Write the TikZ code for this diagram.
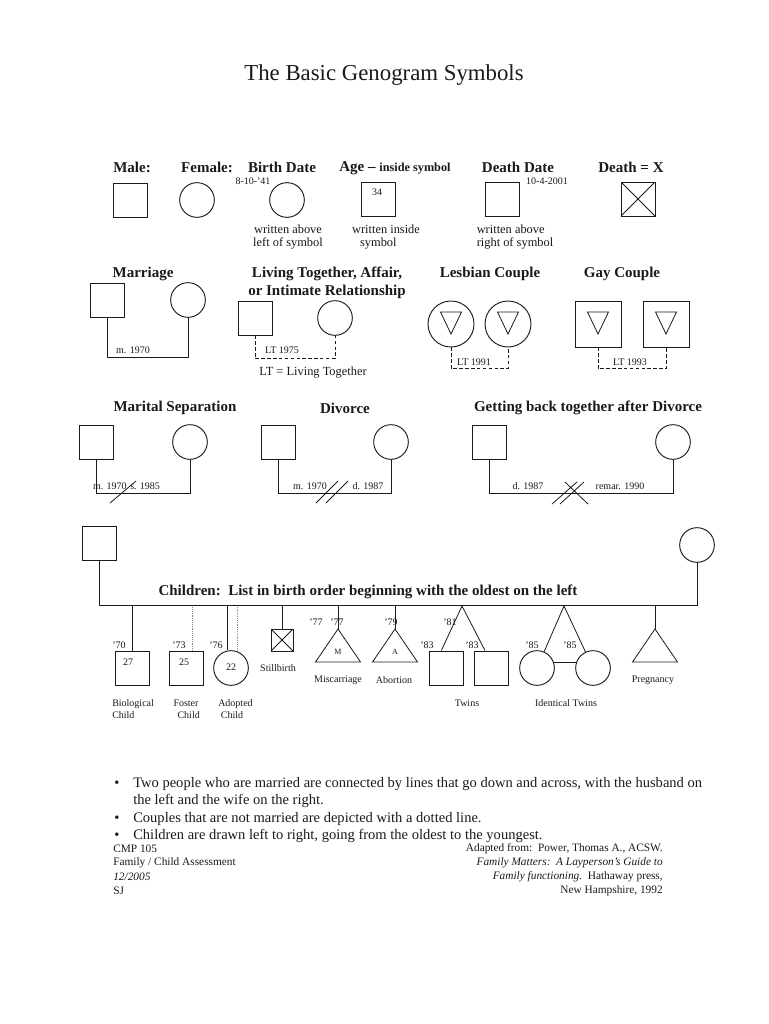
\documentclass[tikz,border=0pt]{standalone}
\usepackage{fontspec}
\setmainfont{Liberation Serif}
\usepackage{xcolor}
\definecolor{Ink}{HTML}{1A1A1A}
\definecolor{Dots}{HTML}{8C8C8C}
\newcommand\gsize[2]{\fontsize{#1}{#2}\selectfont}
% inverted triangle inside a symbol, and a child triangle hanging from its apex
\newcommand\downtri[1]{\draw[rel] ([shift={(-10.5,-12)}]#1.center)--([shift={(10.5,-12)}]#1.center)--([shift={(0,10)}]#1.center)--cycle;}
\newcommand\uptri[1]{\draw[rel] (#1)--++(-22.5,33)--++(45,0)--cycle;}

\begin{document}
\begin{tikzpicture}[x=0.75pt,y=-0.75pt,
  every node/.style={text=Ink,inner sep=0pt},
  hd/.style={font=\bfseries\gsize{11.25}{13.5},align=center},
  sm/.style={font=\gsize{7.5}{9}},
  note/.style={font=\gsize{9.3}{9.75}},
  male/.style={draw=Ink,line width=0.7pt,rectangle,minimum size=25.5pt},
  female/.style={draw=Ink,line width=0.7pt,circle,minimum size=26pt},
  bigmale/.style={male,minimum size=34.5pt},
  bigfemale/.style={female,minimum size=34.5pt},
  dead/.style={male,path picture={\draw[line width=0.6pt] (path picture bounding box.north west)--(path picture bounding box.south east)
     (path picture bounding box.north east)--(path picture bounding box.south west);}},
  rel/.style={draw=Ink,line width=0.6pt},
  lt/.style={rel,dash pattern=on 2.6pt off 1.8pt},
  body/.style={font=\gsize{10.9}{13},anchor=west},
  foot/.style={font=\gsize{8.5}{10}}]
\useasboundingbox (0,0) rectangle (768,1024);
\fill[white] (0,0) rectangle (768,1024);
\node[font=\gsize{17.1}{20}] (title) at (384,75) {The Basic Genogram Symbols};

% basic symbols
\node[hd] (hMale) at (132,167) {Male:};
\node[hd] (hFemale) at (207,167) {Female:};
\node[hd] (hBirth) at (282,167) {Birth Date};
\node[hd,anchor=base] (hAge) at (395,171) {Age -- {\gsize{9.2}{11}inside symbol}};
\node[hd] (hDeath) at (518,167) {Death Date};
\node[hd] (hDead) at (631,167) {Death = X};
\node[male] (male) at (130,200) {};
\node[female] (female) at (197,200) {};
\node[female] (birth) at (287,200) {};
\node[sm] (birthdate) at (253,181) {8-10-'41};
\node[male] (age) at (378,199) {};
\node[sm] (agenum) at (377,192) {34};
\node[male] (death) at (502,199) {};
\node[sm] (deathdate) at (547,181) {10-4-2001};
\node[dead] (dead) at (638,199) {};
\node[note,align=center] (nBirth) at (288,237) {written above\\left of symbol};
\node[note,align=left] (nAge) at (386,237) {written inside\\\hspace*{6pt}symbol};
\node[note,align=left] (nDeath) at (515,237) {written above\\right of symbol};

% couples
\node[hd] (hMarr) at (143,274) {Marriage};
\node[male] (m1) at (107,300) {};
\node[female] (f1) at (188,300) {};
\draw[rel] (m1.south)--++(0,40)-|(f1.south);
\node[sm] (marr1) at (133,350) {m. 1970};
\node[hd] (hLT) at (327,283) {Living Together, Affair,\\or Intimate Relationship};
\node[male] (m2) at (255,318) {};
\node[female] (f2) at (335,318) {};
\draw[lt] (m2.south)--++(0,23)-|(f2.south);
\node[sm] (lt1) at (282,350) {LT 1975};
\node[note] (ltkey) at (313,373) {LT = Living Together};
\node[hd] (hLes) at (490,274) {Lesbian Couple};
\node[bigfemale] (l1) at (451,324) {};
\node[bigfemale] (l2) at (508,324) {};
\downtri{l1}\downtri{l2}
\draw[lt] (l1.south)--++(0,21)-|(l2.south);
\node[sm] (lt2) at (474,362) {LT 1991};
\node[hd] (hGay) at (622,274) {Gay Couple};
\node[bigmale] (g1) at (598,324) {};
\node[bigmale] (g2) at (666,324) {};
\downtri{g1}\downtri{g2}
\draw[lt] (g1.south)--++(0,21)-|(g2.south);
\node[sm] (lt3) at (630,362) {LT 1993};

% separation, divorce, remarriage
\node[hd] (hSep) at (175,408) {Marital Separation};
\node[male] (m3) at (96,442) {};
\node[female] (f3) at (190,442) {};
\draw[rel] (m3.south)--++(0,34)-|(f3.south);
\node[sm,anchor=east] (sep1) at (127,486) {m. 1970};
\node[sm,anchor=west] (sep2) at (130,486) {s. 1985};
\draw[rel] (110,503)--(136,481);
\node[hd] (hDiv) at (345,408) {Divorce};
\node[male] (m4) at (278,442) {};
\node[female] (f4) at (391,442) {};
\draw[rel] (m4.south)--++(0,34)-|(f4.south);
\node[sm] (div1) at (310,486) {m. 1970};
\node[sm] (div2) at (368,486) {d. 1987};
\draw[rel] (316,503)--(338,481) (326,503)--(348,481);
\node[hd] (hBack) at (588,408) {Getting back together after Divorce};
\node[male] (m5) at (489,442) {};
\node[female] (f5) at (673,442) {};
\draw[rel] (m5.south)--++(0,34)-|(f5.south);
\node[sm] (back1) at (528,486) {d. 1987};
\node[sm] (back2) at (620,486) {remar. 1990};
\draw[rel] (552,504)--(577,482) (560,504)--(584,482) (565,482)--(588,504);

% children
\node[male] (m6) at (99,543) {};
\node[female] (f6) at (697,545) {};
\draw[rel] (m6.south)--++(0,45)-|(f6.south);
\coordinate (sib) at (0,606);
\node[hd] (hKids) at (368,592) {Children:\ \ List in birth order beginning with the oldest on the left};
\node[male] (bio) at (132,668) {};
\draw[rel] (bio.north)--(bio.north|-sib);
\node[sm] (y70) at (119,645) {'70};
\node[sm] (n27) at (128,662) {27};
\node[sm,anchor=west,align=left] (lBio) at (112,709) {Biological\\Child};
\node[male] (foster) at (186,668) {};
\draw[Dots,line width=0.4pt,densely dotted] ([xshift=5pt]foster.north)--([xshift=5pt]foster.north|-sib);
\node[sm] (y73) at (179,645) {'73};
\node[sm] (n25) at (184,662) {25};
\node[sm,align=center] (lFoster) at (186,709) {Foster\\\hspace*{4pt}Child};
\node[female] (adopt) at (231,668) {};
\draw[rel] ([xshift=-3pt]adopt.north)--([xshift=-3pt]adopt.north|-sib);
\draw[Dots,line width=0.4pt,densely dotted] ([xshift=4.5pt]adopt.north)--([xshift=4.5pt]adopt.north|-sib);
\node[sm] (y76) at (216,645) {'76};
\node[sm] (n22) at (231,667) {22};
\node[sm,anchor=west,align=left] (lAdopt) at (218,709) {Adopted\\\hspace*{2pt}Child};
\node[dead,minimum size=16.5pt] (still) at (282,640) {};
\draw[rel] (still.north)--(still.north|-sib);
\node[sm] (lStill) at (278,668) {Stillbirth};
\coordinate (misc) at (338,629);
\uptri{misc}
\draw[rel] (misc)--(misc|-sib);
\node[sm] (y77a) at (316,622) {'77};
\node[sm] (y77b) at (337,622) {'77};
\node[font=\gsize{6}{7}] (mM) at (338,652) {M};
\node[sm] (lMisc) at (338,680) {Miscarriage};
\coordinate (abort) at (395,629);
\uptri{abort}
\draw[rel] (abort)--(abort|-sib);
\node[sm] (y79) at (391,622) {'79};
\node[font=\gsize{6}{7}] (mA) at (395,652) {A};
\node[sm] (lAbort) at (394,680) {Abortion};
\coordinate (tw) at (462,606);
\node[male] (tw1) at (446,668) {};
\node[male] (tw2) at (491,668) {};
\draw[rel] ([xshift=-3.5pt]tw1.north)--(tw)--([xshift=-4.5pt]tw2.north);
\node[sm] (y81) at (450,622) {'81};
\node[sm] (y83a) at (427,645) {'83};
\node[sm] (y83b) at (472,645) {'83};
\node[sm] (lTwins) at (467,703) {Twins};
\coordinate (itw) at (564,606);
\node[female] (it1) at (537,668) {};
\node[female] (it2) at (593,668) {};
\draw[rel] (it1)--(itw)--(it2);
\draw[rel] (it1.20)--(it2.160);
\node[sm] (y85a) at (532,645) {'85};
\node[sm] (y85b) at (570,645) {'85};
\node[sm] (lIdent) at (566,703) {Identical Twins};
\coordinate (preg) at (655,629);
\uptri{preg}
\draw[rel] (preg)--(preg|-sib);
\node[sm] (lPreg) at (653,680) {Pregnancy};

% notes
\foreach \yy/\txt in {784/{Two people who are married are connected by lines that go down and across, with the husband on},
  801/{the left and the wife on the right.},
  819/{Couples that are not married are depicted with a dotted line.},
  836/{Children are drawn left to right, going from the oldest to the youngest.}}
  \node[body] at (133,\yy) {\txt};
\foreach \yy in {784,819,836} \node[body] at (114,\yy) {\textbullet};

% footer
\node[foot,anchor=west] (c1) at (113,849) {CMP 105};
\node[foot,anchor=west] (c2) at (113,863) {Family / Child Assessment};
\node[foot,anchor=west] (c3) at (113,877) {\itshape 12/2005};
\node[foot,anchor=west] (c4) at (113,891) {SJ};
\node[foot,anchor=east] (r1) at (663,849) {Adapted from:\ \ Power, Thomas A., ACSW.};
\node[foot,anchor=east] (r2) at (663,863) {\itshape Family Matters:\ \ A Layperson's Guide to};
\node[foot,anchor=east] (r3) at (663,877) {\textit{Family functioning.}\ \ Hathaway press,};
\node[foot,anchor=east] (r4) at (663,891) {New Hampshire, 1992};
\end{tikzpicture}
\end{document}
